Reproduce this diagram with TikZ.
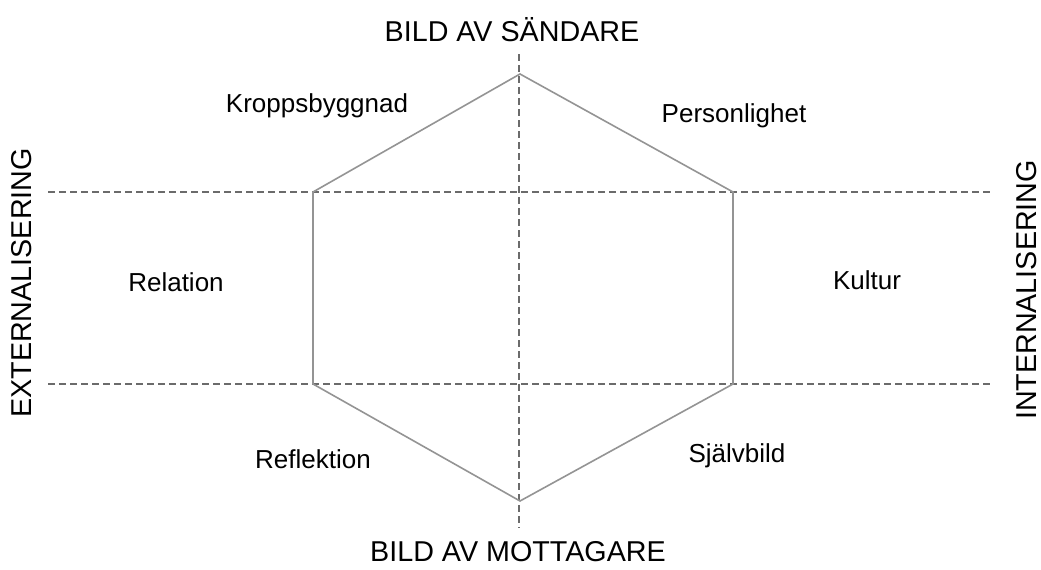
\documentclass[tikz,border=0pt]{standalone}
\usepackage{fontspec}
\setmainfont{Liberation Sans}
\begin{document}
\begin{tikzpicture}[x=1pt,y=-1pt,
  hexline/.style={draw=black!42,line width=1.6pt,line join=miter},
  guide/.style={draw=black!58,line width=1.3pt,dash pattern=on 7pt off 4pt},
  title/.style={font=\fontsize{28.7}{32}\selectfont,inner sep=0pt},
  lbl/.style={font=\fontsize{26}{29}\selectfont,inner sep=0pt}]
\useasboundingbox (0,0) rectangle (1041,570);
\fill[white] (0,0) rectangle (1041,570);
% guide end points
\coordinate (vt) at (519,54);
\coordinate (vb) at (519,528);
\coordinate (h1l) at (48,192);
\coordinate (h1r) at (990,192);
\coordinate (h2l) at (48,384);
\coordinate (h2r) at (990,384);
\draw[guide] (vt) -- (vb);
\draw[guide] (h1l) -- (h1r);
\draw[guide] (h2l) -- (h2r);
% hexagon
\coordinate (pt) at (520,74);
\coordinate (pur) at (733,192);
\coordinate (plr) at (733,384);
\coordinate (pb) at (520,501);
\coordinate (pll) at (313,384);
\coordinate (pul) at (313,192);
\draw[hexline] (pt) -- (pur) -- (plr) -- (pb) -- (pll) -- (pul) -- cycle;
% titles
\node[title] (send) at (512,30) {BILD AV SÄNDARE};
\node[title] (recv) at (518,552) {BILD AV MOTTAGARE};
\node[title,rotate=90] (ext) at (22,283) {EXTERNALISERING};
\node[title,rotate=90] (int) at (1027,290) {INTERNALISERING};
% labels
\node[lbl] (kropp) at (317,106) {Kroppsbyggnad};
\node[lbl] (pers) at (734,116) {Personlighet};
\node[lbl] (rel) at (176,282) {Relation};
\node[lbl] (kult) at (867,280) {Kultur};
\node[lbl] (refl) at (313,459) {Reflektion};
\node[lbl] (sjalv) at (737,456) {Självbild};
\end{tikzpicture}
\end{document}
